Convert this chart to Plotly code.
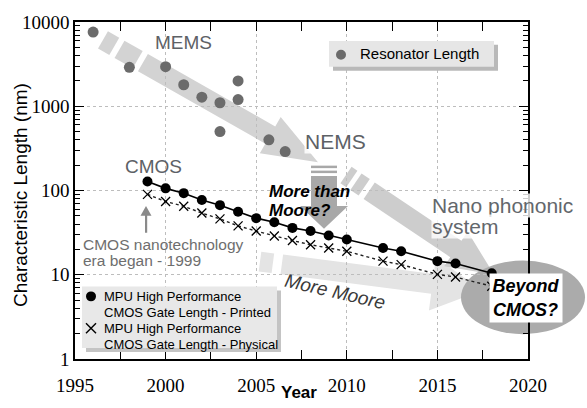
import math
import plotly.graph_objects as go

# ---- data -------------------------------------------------------------
res_years = [1996, 1998, 2000, 2001, 2002, 2003, 2003, 2004, 2004, 2005.7, 2006.6]
res_length = [7600, 2900, 2950, 1800, 1280, 1100, 500, 2000, 1200, 400, 290]

cmos_years = [1999, 2000, 2001, 2002, 2003, 2004, 2005, 2006, 2007, 2008,
              2009, 2010, 2012, 2013, 2015, 2016, 2018]
gate_printed = [128, 106, 93, 77, 67, 56, 47, 42, 36, 33, 29.2, 26.2,
                20.8, 19, 14.5, 13.6, 10.4]
gate_physical = [90, 74, 65, 54, 46, 38, 33, 28.8, 25.5, 22.7, 20.8, 19,
                 14.5, 13.2, 10.1, 9.4, 7.3]

x_ticks = [1995, 2000, 2005, 2010, 2015, 2020]
y_ticks = [1, 10, 100, 1000, 10000]

# ---- figure geometry (pixels) ----------------------------------------
W, H = 587, 408
ML, MR, MT, MB = 75, 59, 22, 47
PW, PH = W - ML - MR, H - MT - MB

SANS = "Liberation Sans, Arial, sans-serif"
SERIF = "Liberation Serif, Times New Roman, serif"
LABEL_GREY = "#5d6166"


def P(px, py):
    """Figure pixel -> paper coordinates."""
    return (px - ML) / PW, (H - MB - py) / PH


def poly(points, color, layer="between"):
    pts = [P(x, y) for x, y in points]
    path = "M " + " L ".join(f"{x:.5f},{y:.5f}" for x, y in pts) + " Z"
    return dict(type="path", xref="paper", yref="paper", path=path,
                fillcolor=color, line=dict(width=0), layer=layer)


def rect(x0, y0, x1, y1, color, layer="between"):
    return poly([(x0, y0), (x1, y0), (x1, y1), (x0, y1)], color, layer)


def fat_arrow(s, t, w, hw, hl, dashes, body_start, color):
    """Broad decorative arrow with a broken tail."""
    dx, dy = t[0] - s[0], t[1] - s[1]
    L = math.hypot(dx, dy)
    ux, uy = dx / L, dy / L
    nx, ny = -uy, ux

    def pt(a, b):
        return (s[0] + ux * a + nx * b, s[1] + uy * a + ny * b)

    out = []
    for a0, a1 in dashes:
        out.append(poly([pt(a0, -w), pt(a1, -w), pt(a1, w), pt(a0, w)], color))
    out.append(poly([pt(body_start, -w), pt(L - hl, -w), pt(L - hl, -hw),
                     pt(L, 0), pt(L - hl, hw), pt(L - hl, w),
                     pt(body_start, w)], color))
    return out


def label(px, py, text, size, color="black", xanchor="center", **kw):
    x, y = P(px, py)
    d = dict(x=x, y=y, xref="paper", yref="paper", text=text,
             showarrow=False, xanchor=xanchor, yanchor="middle",
             font=dict(family=SANS, size=size, color=color))
    d.update(kw)
    return d


shapes = []
# MEMS -> NEMS trend arrow
shapes += fat_arrow((103, 40), (318, 163), 10, 21, 55,
                    [(0, 13), (19, 40)], 46, "#d3d3d3")
# More Moore arrow
shapes += fat_arrow((260, 263), (482, 292), 10, 27, 50,
                    [(0, 13)], 22, "#e4e4e4")
# NEMS -> nano phononic arrow
shapes += fat_arrow((346, 176), (494, 276), 10, 21, 46,
                    [(0, 7), (12, 22)], 28, "#cdcdcd")
# More than Moore? vertical arrow
shapes.append(rect(311, 166.5, 337, 169, "#a8a8a8"))
shapes.append(rect(311, 171.5, 337, 174, "#a8a8a8"))
shapes.append(poly([(311, 177), (337, 177), (337, 207), (348, 207),
                    (324, 230), (300, 207), (311, 207)], "#a8a8a8"))
# Beyond CMOS ellipse
ex0, ey0 = P(461, 262)
ex1, ey1 = P(585, 336)
shapes.append(dict(type="circle", xref="paper", yref="paper",
                   x0=ex0, y0=ey1, x1=ex1, y1=ey0,
                   fillcolor="#ababab", line=dict(width=0), layer="between"))
# pointer to 1999
shapes.append(rect(145, 215, 147.2, 234, "#8a8a8a", layer="above"))
shapes.append(poly([(140.5, 217), (151.5, 217), (146, 207)], "#8a8a8a",
                   layer="above"))

# Resonator legend box
shapes.append(rect(333, 45, 498, 71, "#b9b9b9", layer="above"))
shapes.append(rect(329, 41, 494, 67, "#e6e6e6", layer="above"))
cx0, cy0 = P(336, 50)
cx1, cy1 = P(346, 60)
shapes.append(dict(type="circle", xref="paper", yref="paper",
                   x0=cx0, y0=cy1, x1=cx1, y1=cy0, fillcolor="#6b6b6b",
                   line=dict(width=0), layer="above"))

# CMOS legend box
shapes.append(rect(86, 292, 281, 354, "#c4c4c4", layer="above"))
shapes.append(rect(82, 288, 277, 350, "#e8e8e8", layer="above"))
cx0, cy0 = P(86, 293)
cx1, cy1 = P(96, 303)
shapes.append(dict(type="circle", xref="paper", yref="paper",
                   x0=cx0, y0=cy1, x1=cx1, y1=cy0, fillcolor="black",
                   line=dict(width=0), layer="above"))
for (a, b), (c, d) in [((86, 325), (96, 335)), ((86, 335), (96, 325))]:
    p0, p1 = P(a, b), P(c, d)
    shapes.append(dict(type="line", xref="paper", yref="paper",
                       x0=p0[0], y0=p0[1], x1=p1[0], y1=p1[1],
                       line=dict(color="black", width=1.4), layer="above"))

annotations = [
    label(183, 43, "MEMS", 19, LABEL_GREY),
    label(335, 142, "NEMS", 21, LABEL_GREY, bgcolor="rgba(255,255,255,0.85)",
          borderpad=0),
    label(153, 167, "CMOS", 19, LABEL_GREY),
    label(267, 193, "<b><i>More than</i></b>", 17, xanchor="left"),
    label(267, 212, "<b><i>Moore?</i></b>", 17, xanchor="left"),
    label(431, 207, "Nano phononic", 21, "#63676c", xanchor="left",
          bgcolor="rgba(255,255,255,0.8)", borderpad=0),
    label(431, 228, "system", 21, "#63676c", xanchor="left",
          bgcolor="rgba(255,255,255,0.8)", borderpad=0),
    label(526, 300, "<b><i>Beyond<br>CMOS?</i></b>", 18, bgcolor="white",
          width=72, height=48, borderpad=0),
    label(81, 246, "CMOS nanotechnology", 15.5, "#6e6e6e", xanchor="left"),
    label(81, 262, "era began - 1999", 15.5, "#6e6e6e", xanchor="left"),
    label(335, 293, "<i>More Moore</i>", 19, "#3a3a3a", textangle=13),
    label(358, 54, "Resonator Length", 15, xanchor="left"),
    label(102, 298, "MPU High Performance", 13, xanchor="left"),
    label(102, 314, "CMOS Gate Length - Printed", 13, xanchor="left"),
    label(102, 330, "MPU High Performance", 13, xanchor="left"),
    label(102, 346, "CMOS Gate Length - Physical", 13, xanchor="left"),
    label(21, 196, "Characteristic Length (nm)", 19, textangle=-90),
    label(299, 395, "<b>Year</b>", 17),
]

fig = go.Figure()
fig.add_trace(go.Scatter(
    x=res_years, y=res_length, mode="markers", name="Resonator Length",
    marker=dict(color="#6b6b6b", size=11), showlegend=False))
fig.add_trace(go.Scatter(
    x=cmos_years, y=gate_physical, mode="lines+markers",
    name="MPU High Performance CMOS Gate Length - Physical",
    line=dict(color="#222222", width=1.4, dash="dot"),
    marker=dict(symbol="x-thin", size=9,
                line=dict(color="black", width=1.3)),
    showlegend=False))
fig.add_trace(go.Scatter(
    x=cmos_years, y=gate_printed, mode="lines+markers",
    name="MPU High Performance CMOS Gate Length - Printed",
    line=dict(color="black", width=1.6),
    marker=dict(color="black", size=10), showlegend=False))

axis_common = dict(
    showline=True, linecolor="black", linewidth=1.5, mirror="allticks",
    ticks="inside", tickcolor="black", ticklen=9, tickwidth=1.2,
    showgrid=True, gridcolor="#bdbdbd", griddash="dot", gridwidth=1,
    zeroline=False, tickfont=dict(family=SERIF, size=19, color="black"),
)

fig.update_xaxes(range=[1995, 2020], tickvals=x_ticks,
                 ticktext=[str(v) for v in x_ticks],
                 minor=dict(dtick=2.5, tick0=1995, ticks="inside", ticklen=9,
                            tickcolor="black", tickwidth=1.2, showgrid=False),
                 ticklabelstandoff=8, **axis_common)
fig.update_yaxes(type="log", range=[0, 4], tickvals=y_ticks,
                 ticktext=[str(v) for v in y_ticks],
                 minor=dict(dtick="D1", ticks="inside", ticklen=5,
                            tickcolor="black", tickwidth=1, showgrid=False),
                 **axis_common)

fig.update_layout(
    width=W, height=H, margin=dict(l=ML, r=MR, t=MT, b=MB),
    paper_bgcolor="white", plot_bgcolor="white",
    shapes=shapes, annotations=annotations, showlegend=False,
)

fig.write_html("out.html")
